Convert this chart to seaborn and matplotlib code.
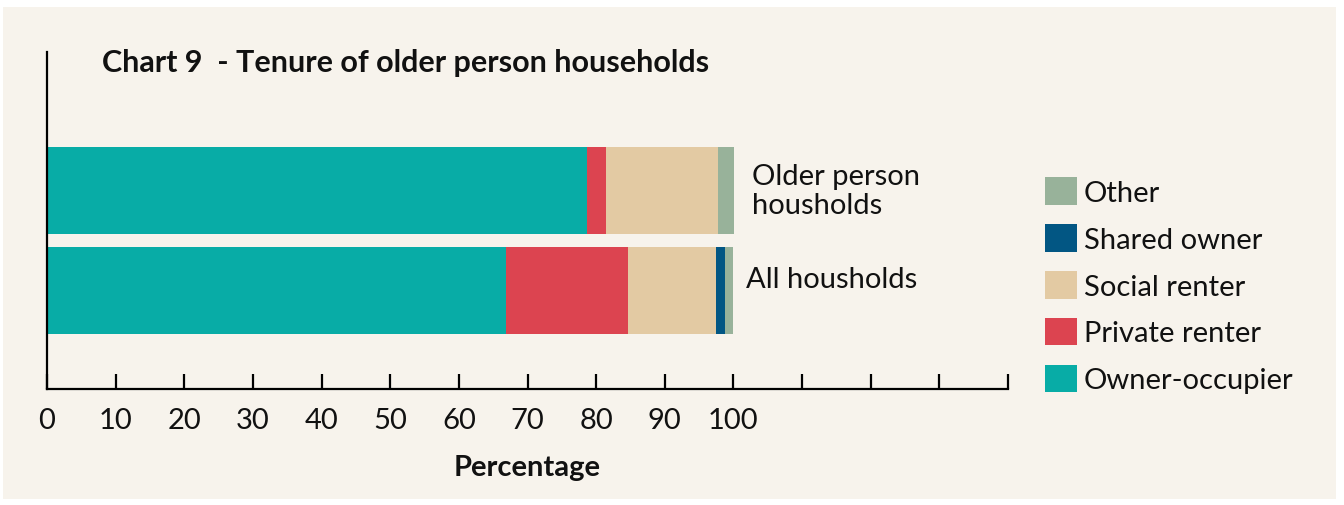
import numpy as np
import pandas as pd
import matplotlib.pyplot as plt
import seaborn as sns
from matplotlib.patches import Patch, Rectangle

# data (percent of households)
groups = ['Older person\nhousholds', 'All housholds']
tenures = ['Owner-occupier', 'Private renter', 'Social renter', 'Shared owner', 'Other']
owner_occupier = [78.6, 66.8]
private_renter = [2.9, 17.9]
social_renter = [16.2, 12.8]
shared_owner = [0.0, 1.2]
other = [2.4, 1.2]
colors = ['#08aca6', '#dc4450', '#e3caa3', '#025683', '#98b29a']

xticks = np.arange(0, 150, 10)
xtick_labels = [str(t) if t <= 100 else '' for t in xticks]

sns.set_theme(style='white')
plt.rcParams['font.family'] = ['Lato', 'DejaVu Sans']

bg = '#f7f3ec'
ink = '#111111'
df = pd.DataFrame({'group': groups, 'Owner-occupier': owner_occupier,
                   'Private renter': private_renter, 'Social renter': social_renter,
                   'Shared owner': shared_owner, 'Other': other})
cum = df[tenures].cumsum(axis=1)
cum['group'] = df['group']

fig = plt.figure(figsize=(13.44, 5.06), dpi=100, facecolor='white')
fig.patches.append(Rectangle((3 / 1344, 6 / 506), 1333 / 1344, 492 / 506,
                             transform=fig.transFigure, facecolor=bg, edgecolor='none', zorder=-10))
ax = fig.add_axes([47 / 1344, 1 - 390 / 506, 961 / 1344, 337 / 506])
ax.set_facecolor(bg)

# stacked bars: draw cumulative totals from the outermost segment inward
for name, col in reversed(list(zip(tenures, colors))):
    sns.barplot(data=cum, y='group', x=name, orient='h', color=col,
                width=0.87, saturation=1, linewidth=0, ax=ax, order=groups)

ax.set_ylim(1.985, -1.385)
ax.set_xlim(0, 140)
ax.set_xticks(xticks)
ax.set_xticklabels(xtick_labels, fontsize=21, color=ink)
ax.tick_params(axis='x', bottom=True, direction='in', length=11, width=1.6,
               color='black', pad=13)
ax.tick_params(axis='y', left=False, labelleft=False)
ax.set_ylabel('')
ax.set_xlabel('Percentage', fontsize=21, fontweight='bold', labelpad=15, color=ink)
for side in ['top', 'right']:
    ax.spines[side].set_visible(False)
for side in ['left', 'bottom']:
    ax.spines[side].set_color('black')
    ax.spines[side].set_linewidth(1.6)

totals = cum['Other'].values
ax.text(totals[0] + 2.6, 0.0, groups[0], fontsize=21,
        va='center', ha='left', linespacing=1.1, color=ink)
ax.text(totals[1] + 2.0, 1 - 0.11, groups[1], fontsize=21,
        va='center', ha='left', color=ink)

fig.text(102 / 1344, 1 - 63 / 506, 'Chart 9  - Tenure of older person households',
         fontsize=22, fontweight='bold', va='center', ha='left', color=ink)

handles = [Patch(facecolor=c, edgecolor='none', label=t) for t, c in zip(tenures, colors)][::-1]
fig.legend(handles=handles, loc='upper left', bbox_to_anchor=(1019 / 1344, 1 - 152 / 506),
           frameon=False, handlelength=1.08, handleheight=1.08, labelcolor=ink,
           handletextpad=0.25, labelspacing=0.62, prop={'size': 21})

fig.savefig('out.png', dpi=100, facecolor='white')
